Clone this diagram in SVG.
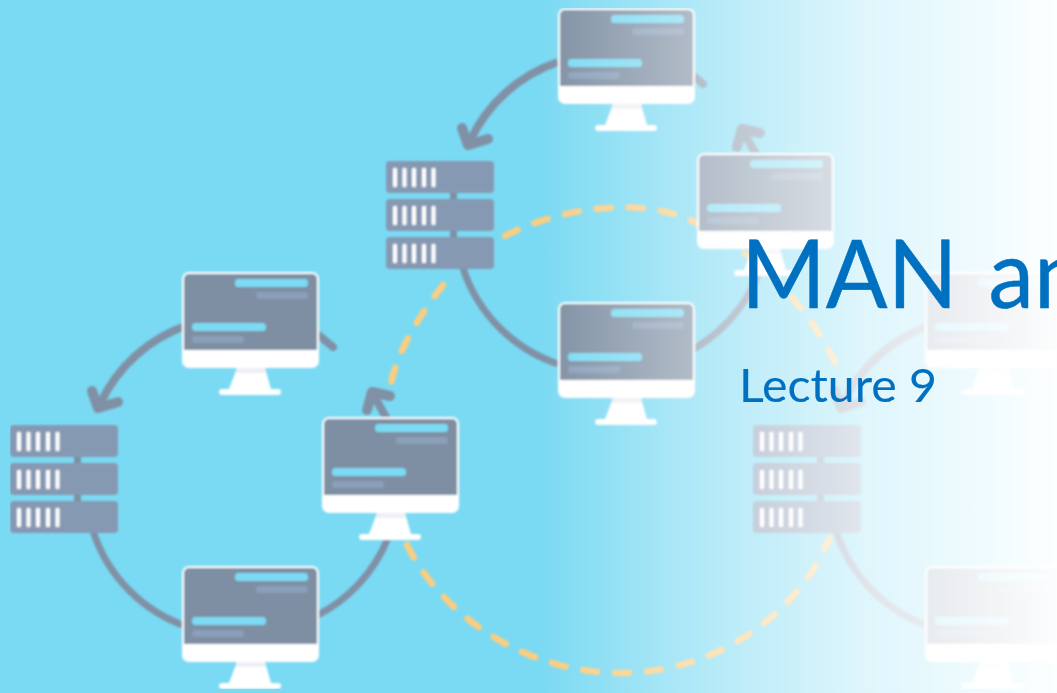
<svg xmlns="http://www.w3.org/2000/svg" width="1057" height="693" viewBox="0 0 1057 693">
<style>
.w{fill:#fff}.scr{fill:#7e8fa3}.hl{fill:#7bdaf3}.lo{fill:#8a9fb9}
.srv{fill:#8699b3}.lnk{fill:#7e8fa3}.st{fill:#eef0f5}
.gray{fill:none;stroke:#8090a5;stroke-width:7}
.shaft{fill:none;stroke:#8090a5;stroke-width:8}
.tail{fill:none;stroke:#8090a5;stroke-width:8;stroke-linecap:round}
.arr{fill:none;stroke:#8090a5;stroke-width:10;stroke-linecap:round;stroke-linejoin:round}
.dash{fill:none;stroke:#fbcd80;stroke-width:6.5;stroke-linecap:round;stroke-dasharray:14 18}
.t{font-family:Lato,"Open Sans",sans-serif;fill:#0070c0;stroke:#0070c0}
</style>
<defs>
<linearGradient id="fade" x1="0" x2="1" y1="0" y2="0">
<stop offset="0.511" stop-color="#fff" stop-opacity="0"/>
<stop offset="0.662" stop-color="#fff" stop-opacity="0.42"/>
<stop offset="0.814" stop-color="#fff" stop-opacity="0.75"/>
<stop offset="0.875" stop-color="#fff" stop-opacity="0.82"/>
<stop offset="0.946" stop-color="#fff" stop-opacity="0.91"/>
<stop offset="1" stop-color="#fff" stop-opacity="0.98"/>
</linearGradient>
<filter id="soft" x="0" y="0" width="100%" height="100%"><feGaussianBlur stdDeviation="0.9"/></filter>
<g id="monitor">
<rect class="w" x="0" y="0" width="137" height="96" rx="7"/>
<path class="scr" d="M2 78V7a5 5 0 0 1 5-5H130a5 5 0 0 1 5 5V78Z"/>
<rect class="hl" x="53" y="7" width="73" height="8" rx="3.5"/>
<rect class="lo" x="74" y="20" width="52" height="7" rx="3"/>
<rect class="hl" x="10" y="51" width="74" height="8" rx="3.5"/>
<rect class="lo" x="10" y="64" width="52" height="7" rx="3"/>
<path class="w" d="M55 96H83L89 117H96a2.500 2.500 0 0 1 0 6H40a2.500 2.500 0 0 1 0-6H47Z"/>
<path class="st" d="M55 96H83L84.500 101H53.500Z"/>
</g>
<g id="server">
<rect class="lnk" x="64" y="30" width="7" height="50"/>
<rect class="srv" x="0" y="0" width="108" height="32" rx="4"/>
<rect class="srv" x="0" y="38" width="108" height="32" rx="4"/>
<rect class="srv" x="0" y="76" width="108" height="32" rx="4"/>
<g class="w">
<rect x="7" y="7" width="4" height="19" rx="1"/><rect x="16.500" y="7" width="4" height="19" rx="1"/><rect x="26" y="7" width="4" height="19" rx="1"/><rect x="36" y="7" width="4" height="19" rx="1"/><rect x="45.500" y="7" width="4" height="19" rx="1"/>
<rect x="7" y="45" width="4" height="19" rx="1"/><rect x="16.500" y="45" width="4" height="19" rx="1"/><rect x="26" y="45" width="4" height="19" rx="1"/><rect x="36" y="45" width="4" height="19" rx="1"/><rect x="45.500" y="45" width="4" height="19" rx="1"/>
<rect x="7" y="83" width="4" height="19" rx="1"/><rect x="16.500" y="83" width="4" height="19" rx="1"/><rect x="26" y="83" width="4" height="19" rx="1"/><rect x="36" y="83" width="4" height="19" rx="1"/><rect x="45.500" y="83" width="4" height="19" rx="1"/>
</g>
</g>
<g id="ring">
<path class="gray" d="M93 531A150 150 0 0 0 188 627"/>
<path class="gray" d="M316 616A150 150 0 0 0 388 538"/>
<path class="shaft" d="M188 325A150 150 0 0 0 100 404"/>
<path class="arr" d="M118 402L98 408L92 391"/>
<path class="tail" d="M316 333L333 347"/>
<path class="shaft" d="M387 419L373 394"/>
<path class="arr" d="M367 410L372 392L390 396"/>
</g>
</defs>
<rect width="1057" height="693" fill="#7bdaf3"/>
<g filter="url(#soft)">
<g id="connectors">
<use href="#ring" x="370" y="-263"/>
<use href="#ring"/>
<use href="#ring" x="743"/>
<path class="dash" d="M505 236C560 207 640 197 690 220C745 245 810 300 842 378"/>
<path class="dash" d="M443 285C420 315 397 350 390 388"/>
<path class="dash" d="M407 545C445 620 530 673 620 673C720 673 800 610 829 539"/>
</g>
<g id="server-1"><use href="#server" x="386" y="161"/></g>
<g id="server-2"><use href="#server" x="10" y="425"/></g>
<g id="server-3"><use href="#server" x="753" y="425"/></g>
<g id="monitor-1"><use href="#monitor" x="558" y="8"/></g>
<g id="monitor-2"><use href="#monitor" x="697" y="153"/></g>
<g id="monitor-3"><use href="#monitor" x="558" y="302"/></g>
<g id="monitor-4"><use href="#monitor" x="182" y="272"/></g>
<g id="monitor-5"><use href="#monitor" x="322" y="417"/></g>
<g id="monitor-6"><use href="#monitor" x="182" y="566"/></g>
<g id="monitor-7"><use href="#monitor" x="925" y="272"/></g>
<g id="monitor-8"><use href="#monitor" x="925" y="566"/></g>
</g>
<rect id="fade-overlay" width="1057" height="693" fill="url(#fade)"/>
<g id="title">
<text class="t" x="741" y="308" font-size="95" stroke-width="0.5" word-spacing="8" textLength="344" lengthAdjust="spacingAndGlyphs">MAN an</text>
<text class="t" x="739" y="402" font-size="47" stroke-width="0.1" textLength="198" lengthAdjust="spacingAndGlyphs">Lecture 9</text>
</g>
</svg>
